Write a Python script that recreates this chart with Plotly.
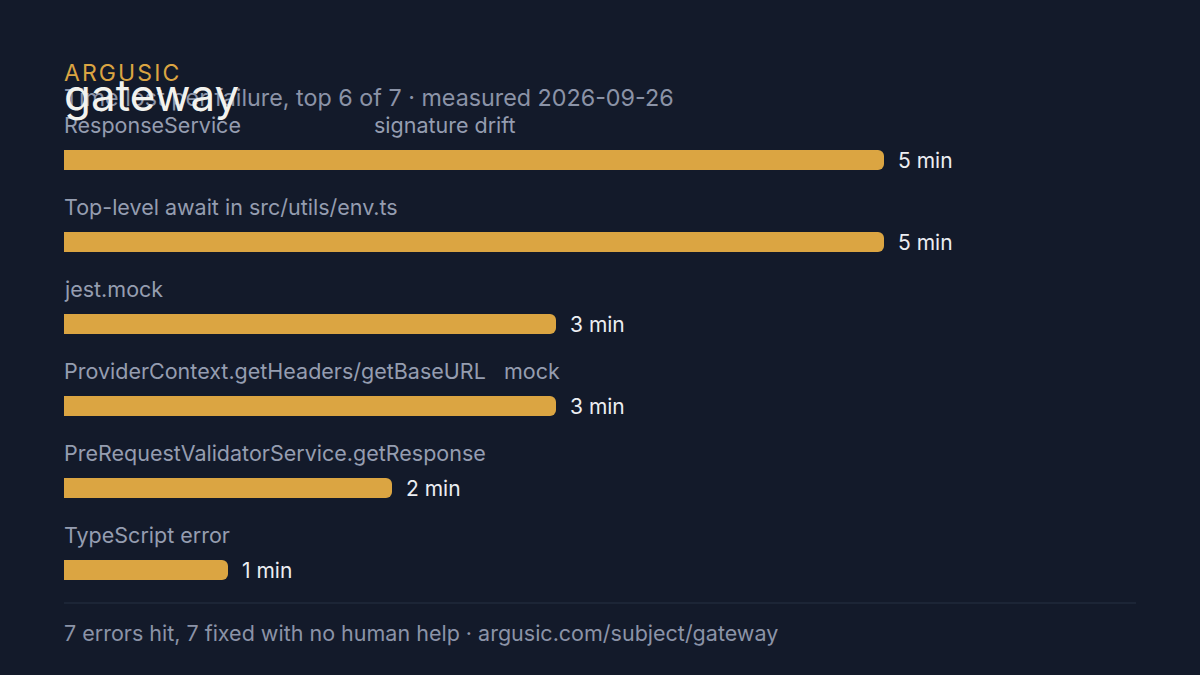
import plotly.graph_objects as go

labels = [
    "ResponseService                      signature drift",
    "Top-level await in src/utils/env.ts",
    "jest.mock",
    "ProviderContext.getHeaders/getBaseURL   mock",
    "PreRequestValidatorService.getResponse",
    "TypeScript error",
]
minutes = [5, 5, 3, 3, 2, 1]
value_text = ["5 min", "5 min", "3 min", "3 min", "2 min", "1 min"]

bg = "#131a2a"
gold = "#dba542"
font = "Inter"

ys = list(range(len(labels)))

fig = go.Figure(
    go.Bar(
        x=minutes,
        y=ys,
        orientation="h",
        width=0.244,
        marker=dict(color=gold, line_width=0, cornerradius=6),
        hoverinfo="skip",
    )
)


def px_y(p):
    return (600 - p) / 500


for i, (lab, v, t) in enumerate(zip(labels, minutes, value_text)):
    fig.add_annotation(x=0, y=i - 0.43, text=lab, showarrow=False, xanchor="left",
                       xshift=-2, yanchor="middle",
                       font=dict(family=font, size=21.5, color="#959db0"))
    fig.add_annotation(x=v, y=i, text=t, showarrow=False, xanchor="left", xshift=12,
                       yanchor="middle", font=dict(family=font, size=21, color="#eceef2"))

fig.add_annotation(xref="paper", yref="paper", x=0, y=px_y(73),
                   text="\u200a".join("ARGUSIC"),
                   showarrow=False, xanchor="left", yanchor="middle", xshift=-2,
                   font=dict(family=font, size=23, color=gold))
fig.add_annotation(xref="paper", yref="paper", x=0, y=px_y(97),
                   text="Time lost per failure, top 6 of 7 · measured 2026-09-26",
                   showarrow=False, xanchor="left", yanchor="middle", xshift=-2,
                   font=dict(family=font, size=23.3, color="#8b93a7"))
fig.add_annotation(xref="paper", yref="paper", x=0, y=px_y(95), text="gateway",
                   showarrow=False, xanchor="left", yanchor="middle", xshift=-2,
                   font=dict(family=font, size=44, color="#f2f2ee"))
fig.add_annotation(xref="paper", yref="paper", x=0, y=px_y(633),
                   text="7 errors hit, 7 fixed with no human help · argusic.com/subject/gateway",
                   showarrow=False, xanchor="left", yanchor="middle", xshift=-2,
                   font=dict(family=font, size=21.5, color="#8b93a7"))
fig.add_shape(type="line", xref="paper", yref="paper", x0=0, x1=1,
              y0=px_y(603), y1=px_y(603), line=dict(color="#273042", width=1))

fig.update_xaxes(range=[0, 1072 / 164], visible=False)
fig.update_yaxes(range=[(600 - 160) / 82, (100 - 160) / 82], visible=False)
fig.update_layout(
    width=1200, height=675,
    margin=dict(l=64, r=64, t=100, b=75),
    paper_bgcolor=bg, plot_bgcolor=bg,
    showlegend=False,
)

fig.write_html("out.html", config={"displayModeBar": False})

# drop the browser's default page margin
with open("out.html", encoding="utf-8") as f:
    page = f.read()
page = page.replace("<head>", "<head><style>body{margin:0;background:#131a2a}</style>", 1)
with open("out.html", "w", encoding="utf-8") as f:
    f.write(page)
